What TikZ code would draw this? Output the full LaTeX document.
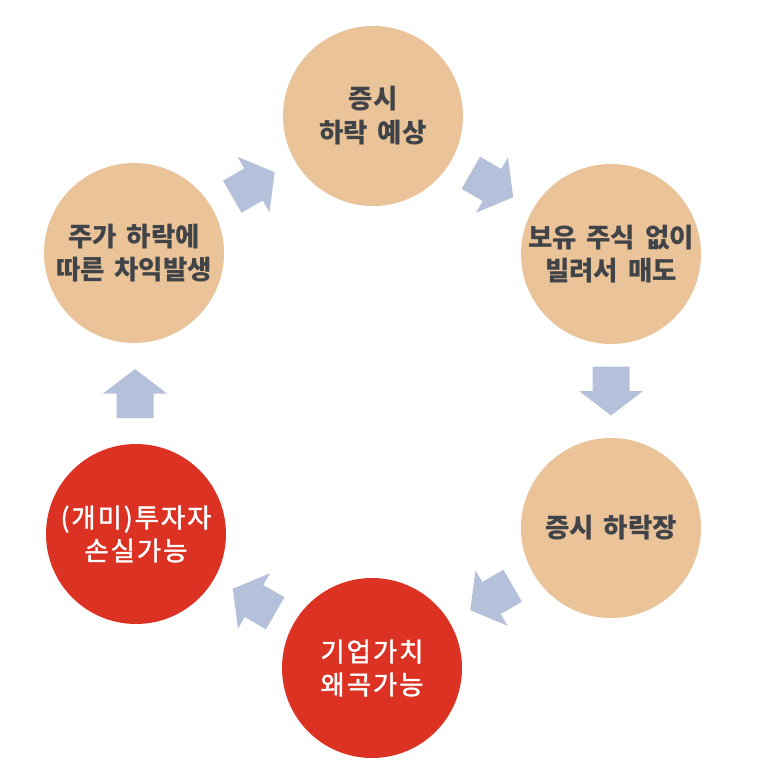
\documentclass[tikz,border=0pt]{standalone}
\usepackage{fontspec}
\newfontfamily\kr[WordSpace=1.6]{Noto Sans CJK KR}
\newfontfamily\krw[LetterSpace=7,FakeBold=1.5]{Noto Sans CJK KR}
\usetikzlibrary{calc}
\definecolor{tan}{RGB}{234,195,152}
\definecolor{redc}{RGB}{220,50,35}
\definecolor{arrowc}{RGB}{181,193,218}
\definecolor{txt}{RGB}{64,68,72}
\tikzset{
  circ/.style={circle, minimum size=180pt, inner sep=0pt, align=center},
  tancirc/.style={circ, fill=tan, text=txt,
    font={\kr\bfseries\fontsize{26.5}{33}\selectfont}},
  redcirc/.style={circ, fill=redc, text=white,
    font={\krw\fontsize{26.5}{33}\selectfont}},
  blockarrow/.style={fill=arrowc, draw=none}
}
\newcommand{\blkarrow}[3]{%
  \begin{scope}[shift={($(#1)!0.5!(#2)$)}, rotate=#3]
    \fill[blockarrow] (-24.5,-18.5) -- (0,-18.5) -- (0,-32) -- (24.5,0) -- (0,32) -- (0,18.5) -- (-24.5,18.5) -- cycle;
  \end{scope}}
\begin{document}
\begin{tikzpicture}[x=1pt,y=-1pt]
\useasboundingbox (0,0) rectangle (758,776);
\node[tancirc] (top) at (373,116) {증시\\[1pt]하락 예상};
\node[tancirc] (ur) at (611,254) {보유 주식 없이\\빌려서 매도};
\node[tancirc] (lr) at (611,528) {증시 하락장};
\node[redcirc] (bot) at (372,668) {기업가치\\왜곡가능};
\node[redcirc] (ll) at (136,534) {(개미)투자자\\손실가능};
\node[tancirc] (ul) at (134,253) {주가 하락에\\따른 차익발생};
\blkarrow{ul}{top}{30}
\blkarrow{top}{ur}{-30}
\blkarrow{ur}{lr}{-90}
\blkarrow{lr}{bot}{-150}
\blkarrow{bot}{ll}{150}
\blkarrow{ll}{ul}{90}
\end{tikzpicture}
\end{document}
